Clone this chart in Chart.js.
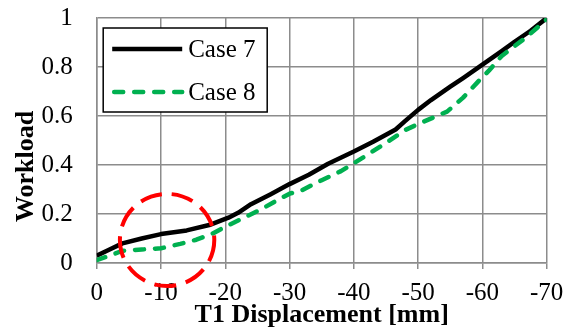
<!DOCTYPE html>
<html><head><meta charset="utf-8">
<script src="https://cdn.jsdelivr.net/npm/chart.js@4/dist/chart.umd.min.js"></script>
<style>html,body{margin:0;padding:0;background:#fff;}#wrap{width:573px;height:327px;position:relative;}</style>
</head><body><div id="wrap"><canvas id="c"></canvas></div>
<script>
const seriesNames = ['Case 7', 'Case 8'];
const case7X = [0, -2, -4, -7, -10, -14, -17.5, -20.5, -22, -24, -27, -30, -33, -36, -40, -43, -46.5, -48, -50, -52, -55, -57, -60, -63, -65, -67.5, -70];
const case7Y = [0.03, 0.055, 0.08, 0.10, 0.118, 0.133, 0.155, 0.185, 0.205, 0.24, 0.28, 0.322, 0.36, 0.405, 0.455, 0.495, 0.545, 0.58, 0.625, 0.665, 0.72, 0.755, 0.81, 0.865, 0.903, 0.948, 1.0];
const case8X = [0, -2, -4, -7, -10, -13, -15.5, -18, -20, -22.5, -25.5, -28, -30, -32, -35, -38, -42, -45, -48, -50.5, -54.5, -57, -59.5, -61, -63, -67, -70];
const case8Y = [0.012, 0.03, 0.05, 0.055, 0.06, 0.078, 0.095, 0.12, 0.148, 0.18, 0.218, 0.255, 0.283, 0.298, 0.338, 0.375, 0.44, 0.49, 0.543, 0.573, 0.618, 0.675, 0.745, 0.785, 0.845, 0.925, 0.995];
const xTickValues = [0, -10, -20, -30, -40, -50, -60, -70];
const xTickLabels = ['0', '-10', '-20', '-30', '-40', '-50', '-60', '-70'];
const yTickValues = [0, 0.2, 0.4, 0.6, 0.8, 1];
const yTickLabels = ['0', '0.2', '0.4', '0.6', '0.8', '1'];
const xTitle = 'T1 Displacement [mm]';
const yTitle = 'Workload';
// highlight ellipse (data units): centre x, centre y, radius x, radius y
const markCenter = [-10.95, 0.094];
const markRadius = [7.34, 0.188];

const SERIF = '"Liberation Serif", "Times New Roman", serif';
const GRID = '#8c8c8c';

const toPts = (xs, ys) => xs.map((x, i) => ({x: x, y: ys[i]}));

const yTitlePlugin = {
  id: 'yTitle',
  afterDraw(chart) {
    const {ctx, chartArea} = chart;
    ctx.save();
    ctx.translate(chartArea.left - 70.5, (chartArea.top + chartArea.bottom) / 2 + 26);
    ctx.rotate(-Math.PI / 2);
    ctx.font = 'bold 26px ' + SERIF;
    ctx.fillStyle = '#000';
    ctx.textAlign = 'center';
    ctx.textBaseline = 'middle';
    ctx.fillText(yTitle, 0, 0);
    ctx.restore();
  }
};

const markPlugin = {
  id: 'mark',
  afterDraw(chart) {
    const {ctx} = chart;
    const xs = chart.scales.x, ys = chart.scales.y;
    const cx = xs.getPixelForValue(markCenter[0]);
    const cy = ys.getPixelForValue(markCenter[1]);
    const rx = Math.abs(xs.getPixelForValue(markCenter[0] + markRadius[0]) - cx);
    const ry = Math.abs(ys.getPixelForValue(markCenter[1] + markRadius[1]) - cy);
    ctx.save();
    ctx.strokeStyle = '#ff0000';
    ctx.lineWidth = 4;
    ctx.setLineDash([22, 10]);
    ctx.lineDashOffset = 0;
    ctx.beginPath();
    ctx.ellipse(cx, cy, rx, ry, 0, 0, Math.PI * 2);
    ctx.stroke();
    ctx.restore();
  }
};

const legendPlugin = {
  id: 'boxLegend',
  afterDatasetsDraw(chart) {
    const {ctx, chartArea} = chart;
    const left = chartArea.left + 6.5, top = chartArea.top + 10;
    const w = 164, h = 84;
    ctx.save();
    ctx.fillStyle = '#fff';
    ctx.fillRect(left, top, w, h);
    ctx.strokeStyle = '#000';
    ctx.lineWidth = 1.5;
    ctx.strokeRect(left, top, w, h);
    const order = [0, 1];
    const rowsY = [top + 21, top + 64];
    order.forEach((di, k) => {
      const ds = chart.data.datasets[di];
      const y = rowsY[k];
      ctx.save();
      ctx.strokeStyle = ds.borderColor;
      ctx.lineWidth = ds.borderWidth;
      ctx.lineCap = ds.borderCapStyle || 'butt';
      ctx.setLineDash(ds.borderDash || []);
      ctx.beginPath();
      ctx.moveTo(left + 9 + (ds.borderDash ? 2 : 0), y);
      ctx.lineTo(left + 79, y);
      ctx.stroke();
      ctx.restore();
      ctx.fillStyle = '#000';
      ctx.font = '25px ' + SERIF;
      ctx.textAlign = 'left';
      ctx.textBaseline = 'middle';
      ctx.fillText(ds.label, left + 85, y + 1);
    });
    ctx.restore();
  }
};

new Chart(document.getElementById('c'), {
  type: 'line',
  data: {
    datasets: [
      {label: seriesNames[0], data: toPts(case7X, case7Y), borderColor: '#000000', borderWidth: 4.5, pointRadius: 0, tension: 0, fill: false, order: 1, borderCapStyle: 'butt', borderJoinStyle: 'round'},
      {label: seriesNames[1], data: toPts(case8X, case8Y), borderColor: '#00b050', borderWidth: 4.5, pointRadius: 0, tension: 0, fill: false, order: 0, borderDash: [9, 11], borderCapStyle: 'round', borderJoinStyle: 'round'}
    ]
  },
  options: {
    responsive: true,
    maintainAspectRatio: false,
    animation: false,
    devicePixelRatio: 1,
    layout: {padding: {left: 0, right: 26.3, top: 18, bottom: 0}},
    plugins: {legend: {display: false}, tooltip: {enabled: false}},
    scales: {
      x: {
        type: 'linear', reverse: true, min: -70, max: 0,
        afterBuildTicks: s => { s.ticks = xTickValues.map(v => ({value: v})); },
        afterFit: s => { s.height = 64; s.paddingLeft = 0; s.paddingRight = 0; },
        ticks: {
          callback: v => xTickLabels[xTickValues.indexOf(v)],
          font: {family: SERIF, size: 25}, color: '#000', padding: 9, maxRotation: 0, autoSkip: false
        },
        grid: {color: GRID, lineWidth: 1.5, tickLength: 6, drawTicks: true},
        border: {display: true, color: GRID, width: 1.5},
        title: {display: true, text: xTitle, font: {family: SERIF, size: 26, weight: 'bold', lineHeight: 1}, color: '#000', padding: {top: 0, bottom: -1}}
      },
      y: {
        type: 'linear', min: 0, max: 1,
        afterBuildTicks: s => { s.ticks = yTickValues.map(v => ({value: v})); },
        afterFit: s => { s.width = 96.7; s.paddingTop = 0; s.paddingBottom = 0; },
        ticks: {
          callback: v => yTickLabels[yTickValues.indexOf(v)],
          font: {family: SERIF, size: 25}, color: '#000', padding: 24, autoSkip: false
        },
        grid: {color: GRID, lineWidth: 1.5, drawTicks: false},
        border: {display: true, color: GRID, width: 1.5}
      }
    }
  },
  plugins: [legendPlugin, markPlugin, yTitlePlugin]
});
</script>
</body></html>
